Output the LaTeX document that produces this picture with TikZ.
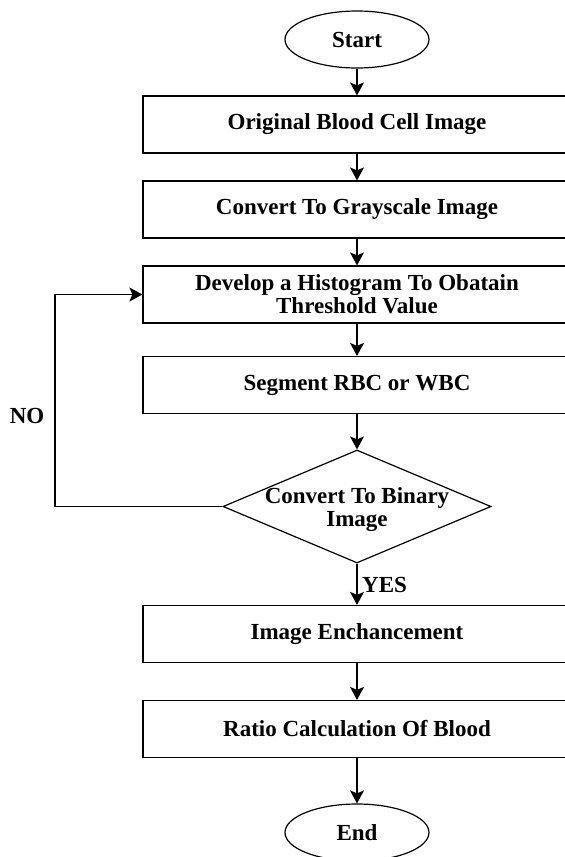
\documentclass[tikz,border=0pt]{standalone}
\usepackage{fontspec}
\setmainfont{Liberation Serif}
\usetikzlibrary{shapes.geometric, arrows.meta}

\begin{document}
\begin{tikzpicture}[x = 1pt, y = 1pt,
  txt/.style = {font = \bfseries\fontsize{23}{23}\selectfont, align = center},
  procbox/.style = {draw, line width = 1.2pt, txt, minimum width = 428pt, minimum height = 57pt, inner sep = 0pt},
  termin/.style = {draw, ellipse, line width = 1.2pt, txt, minimum width = 144pt, minimum height = 57pt, inner sep = 0pt},
  arr/.style = {line width = 1.2pt, -{Stealth[length = 13pt, width = 14pt, inset = 3pt]}}]
\useasboundingbox (0, 0) rectangle (565, -857);
\node (start) at (357, -39.5) [termin] {Start};
\node (orig) at (357, -124.5) [procbox] {Original Blood Cell Image};
\node (gray) at (357, -209.5) [procbox] {Convert To Grayscale Image};
\node (hist) at (357, -294.5) [procbox] {Develop a Histogram To Obatain\\Threshold Value};
\node (seg) at (357, -385) [procbox] {Segment RBC or WBC};
\node (bin) at (357, -506.5) [draw, diamond, line width = 1.2pt, minimum width = 268pt, minimum height = 113pt, inner sep = 0pt,
  label = {[txt, yshift = -3pt]center:Convert To Binary\\Image}] {};
\node (enh) at (357, -634) [procbox] {Image Enchancement};
\node (ratio) at (357, -729) [procbox] {Ratio Calculation Of Blood};
\node (stop) at (357, -832.5) [termin] {End};
\draw [arr] (start) to (orig);
\draw [arr] (orig) to (gray);
\draw [arr] (gray) to (hist);
\draw [arr] (hist) to (seg);
\draw [arr] (seg) to (bin);
\draw [arr] (bin) to (enh);
\draw [arr] (enh) to (ratio);
\draw [arr] (ratio) to (stop);
% no branch back to the histogram
\coordinate (nocorner) at (55, -506.5);
\draw [arr] (bin.west) to (nocorner) |- (hist.west);
\node (no) at (27, -416) [txt] {NO};
\node (yes) at (362, -585) [txt, anchor = west, inner sep = 0pt] {YES};
\end{tikzpicture}
\end{document}
